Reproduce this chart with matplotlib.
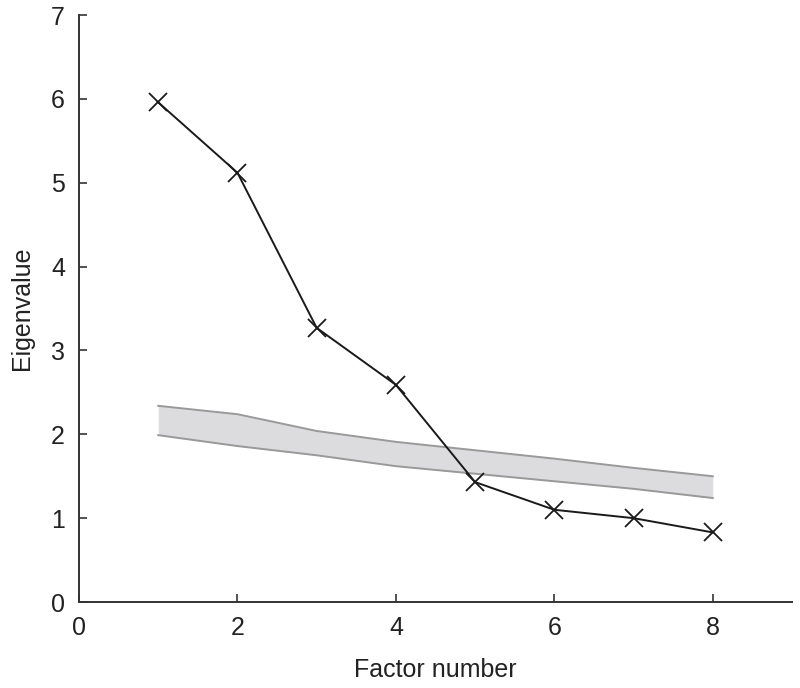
import matplotlib
matplotlib.use("Agg")
import matplotlib.pyplot as plt

factors = [1, 2, 3, 4, 5, 6, 7, 8]
eigenvalues = [5.96, 5.12, 3.27, 2.59, 1.43, 1.10, 1.00, 0.83]
band_upper = [2.34, 2.24, 2.04, 1.91, 1.81, 1.71, 1.60, 1.50]
band_lower = [1.99, 1.86, 1.75, 1.62, 1.53, 1.44, 1.35, 1.24]

plt.rcParams['font.family'] = ['Liberation Sans', 'DejaVu Sans']

fig = plt.figure(figsize=(8, 6.88), dpi=100)
ax = fig.add_axes([0.09875, 0.125, 0.89125, 0.853])

ax.fill_between(factors, band_lower, band_upper, color='#dcdcde', linewidth=0, zorder=1)
ax.plot(factors, band_upper, color='#999999', lw=1.4, zorder=2)
ax.plot(factors, band_lower, color='#999999', lw=1.4, zorder=2)
ax.plot(factors, eigenvalues, color='#1a1a1a', lw=1.4, marker='x', markersize=13,
        markeredgewidth=1.3, zorder=3)

ax.set_xlim(0, 9)
ax.set_ylim(0, 7)
ax.set_xticks([0, 2, 4, 6, 8])
ax.set_yticks(range(8))
ax.spines['top'].set_visible(False)
ax.spines['right'].set_visible(False)
for s in ['left', 'bottom']:
    ax.spines[s].set_linewidth(1.4)
    ax.spines[s].set_color('#333333')
ax.tick_params(direction='in', length=6, width=1.2, color='#333333', labelsize=18, pad=10)
ax.set_xlabel('Factor number', fontsize=18, labelpad=13, color='#222222')
ax.set_ylabel('Eigenvalue', fontsize=18, labelpad=12, color='#222222')
for lab in ax.get_xticklabels() + ax.get_yticklabels():
    lab.set_color('#222222')

fig.savefig('out.png', dpi=100)
